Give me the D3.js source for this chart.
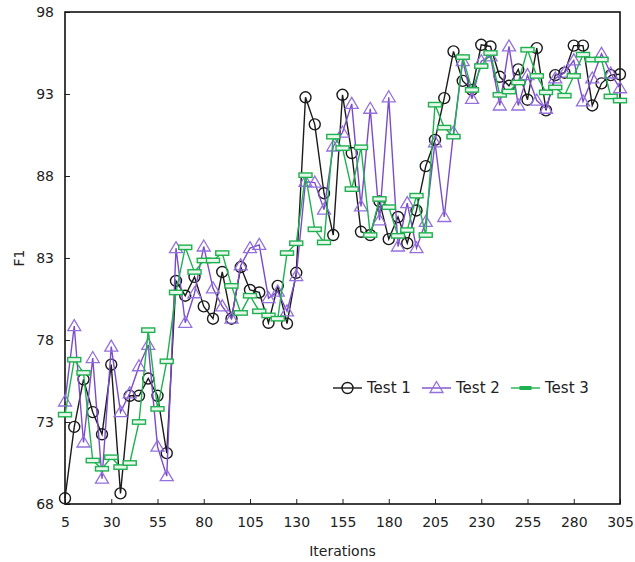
<!DOCTYPE html>
<html>
<meta charset="utf-8" />
<script src="https://d3js.org/d3.v7.min.js"></script>

<body>
    <style>
        body,
        html {
            margin: 0;
            padding: 0;
            background: #fff;
            overflow: hidden;
        }

        text {
            font-family: "DejaVu Sans", Verdana, sans-serif;
            fill: #222;
        }
    </style>

    <svg id="chart"></svg>

    <script>
        // iterations on the x axis
        var iterations = d3.range(5, 306, 5);

        var test1 = [68.35, 72.7, 75.6, 73.6, 72.25, 76.5, 68.65, 74.6, 74.6, 75.65, 74.6, 71.1,
            81.6, 80.7, 81.85, 80.05, 79.3, 82.15, 79.3, 82.45, 81.05, 80.9, 79.05, 81.3, 79.0,
            82.1, 92.8, 91.15, 86.95, 84.4, 92.95, 89.4, 84.6, 84.4, 86.45, 84.15, 85.5, 83.9,
            85.9, 88.6, 90.2, 92.75, 95.6, 93.8, 93.25, 96.0, 95.9, 94.05, 93.5, 94.5, 92.65,
            95.8, 92.0, 94.15, 94.3, 95.95, 95.95, 92.3, 93.65, 94.15, 94.2];

        var test2 = [74.25, 78.85, 71.75, 76.9, 69.55, 77.6, 73.6, 74.75, 76.4, 77.7, 71.5, 69.7,
            83.6, 79.05, 80.85, 83.7, 81.15, 80.05, 79.3, 82.55, 83.6, 83.8, 80.55, 80.95, 79.75,
            81.9, 87.65, 87.6, 85.95, 89.8, 90.65, 92.4, 86.15, 92.1, 85.3, 92.8, 83.7, 86.35,
            83.6, 85.2, 90.05, 85.5, 90.65, 95.0, 92.7, 95.0, 95.3, 92.3, 95.9, 92.3, 94.15,
            92.6, 92.1, 93.95, 94.3, 95.05, 92.55, 93.95, 95.45, 94.25, 93.35];

        var test3 = [73.45, 76.8, 76.0, 70.65, 70.15, 70.85, 70.25, 70.5, 73.0, 78.6, 73.8, 76.7,
            80.9, 83.65, 82.15, 82.85, 82.85, 83.3, 81.3, 79.65, 80.7, 79.75, 79.5, 79.3, 83.3,
            83.9, 88.05, 84.75, 83.95, 90.4, 89.7, 87.2, 89.75, 84.4, 86.6, 86.1, 84.35, 84.7,
            86.8, 84.4, 92.35, 90.95, 90.4, 95.25, 93.25, 94.7, 95.5, 92.95, 93.15, 93.7, 95.7,
            94.1, 93.1, 93.4, 92.9, 94.1, 95.4, 95.1, 95.1, 92.85, 92.6];

        var xTicks = [5, 30, 55, 80, 105, 130, 155, 180, 205, 230, 255, 280, 305];
        var yTicks = [68, 73, 78, 83, 88, 93, 98];

        var series = [
            { name: "Test 1", values: test1, color: "#1a1a1a", marker: "circle" },
            { name: "Test 2", values: test2, color: "#7b4cc8", marker: "triangle" },
            { name: "Test 3", values: test3, color: "#1fb14f", marker: "rect" }
        ];

        var width = 635, height = 562;
        var margins = { top: 12, left: 65, bottom: 58, right: 15 };

        var svg = d3.select("#chart")
            .attr("width", width)
            .attr("height", height);

        var x = d3.scaleLinear()
            .domain([5, 305])
            .range([margins.left, width - margins.right]);

        var y = d3.scaleLinear()
            .domain([68, 98])
            .range([height - margins.bottom, margins.top]);

        // axes, ticks pointing inwards
        var xAxis = svg.append("g")
            .attr("transform", `translate(0, ${y(68)})`)
            .call(d3.axisBottom(x).tickValues(xTicks).tickSizeInner(-5).tickSizeOuter(0).tickPadding(13));

        var yAxis = svg.append("g")
            .attr("transform", `translate(${x(5)}, 0)`)
            .call(d3.axisLeft(y).tickValues(yTicks).tickSizeInner(-5).tickSizeOuter(0).tickPadding(11));

        [xAxis, yAxis].forEach(function (g) {
            g.select(".domain").remove();
            g.selectAll(".tick line").attr("stroke", "#222").attr("stroke-width", 1);
            g.selectAll(".tick text").style("font-size", "14px").attr("fill", "#222");
        });

        // frame
        svg.append("rect")
            .attr("x", x(5))
            .attr("y", y(98))
            .attr("width", x(305) - x(5))
            .attr("height", y(68) - y(98))
            .attr("fill", "none")
            .attr("stroke", "#111")
            .attr("stroke-width", 1.6);

        svg.append("text")
            .attr("x", (x(5) + x(305)) / 2)
            .attr("y", 556)
            .attr("text-anchor", "middle")
            .style("font-size", "14px")
            .text("Iterations");

        svg.append("text")
            .attr("transform", `translate(24, ${(y(68) + y(98)) / 2}) rotate(-90)`)
            .attr("text-anchor", "middle")
            .style("font-size", "14px")
            .text("F1");

        var line = d3.line()
            .x(function (d, i) { return x(iterations[i]); })
            .y(function (d) { return y(d); });

        function drawMarker(g, type, color) {
            if (type === "circle") {
                g.append("circle").attr("r", 5.5)
                    .attr("fill", "none").attr("stroke", color).attr("stroke-width", 1.4);
            } else if (type === "triangle") {
                g.append("path").attr("d", "M0,-6.5 L6.5,4.5 L-6.5,4.5 Z")
                    .attr("fill", "none").attr("stroke", "#9470dc").attr("stroke-width", 1.3);
            } else {
                g.append("rect").attr("x", -6.5).attr("y", -2.2).attr("width", 13).attr("height", 4.4)
                    .attr("fill", "#e8f7ec").attr("stroke", color).attr("stroke-width", 1.4);
            }
        }

        series.forEach(function (s) {
            svg.append("path")
                .datum(s.values)
                .attr("d", line)
                .attr("fill", "none")
                .attr("stroke", s.color)
                .attr("stroke-width", 1.4);

            svg.selectAll(".m-" + s.marker)
                .data(s.values)
                .enter().append("g")
                .attr("class", "m-" + s.marker)
                .attr("transform", function (d, i) { return `translate(${x(iterations[i])}, ${y(d)})`; })
                .each(function () { drawMarker(d3.select(this), s.marker, s.color); });
        });

        // legend
        var legend = svg.append("g").attr("transform", "translate(333, 388)");
        var legendX = [0, 89, 178];
        series.forEach(function (s, i) {
            var item = legend.append("g").attr("transform", `translate(${legendX[i]}, 0)`);
            item.append("line")
                .attr("x1", 0).attr("x2", 29)
                .attr("stroke", s.color).attr("stroke-width", 1.4);
            var m = item.append("g").attr("transform", "translate(14.5, 0)");
            if (s.marker === "rect") {
                m.append("rect").attr("x", -6).attr("y", -2).attr("width", 12).attr("height", 4)
                    .attr("fill", s.color);
            } else {
                drawMarker(m, s.marker, s.color);
            }
            item.append("text")
                .attr("x", 34)
                .attr("dy", "0.35em")
                .style("font-size", "15px")
                .text(s.name);
        });
    </script>
</body>

</html>
